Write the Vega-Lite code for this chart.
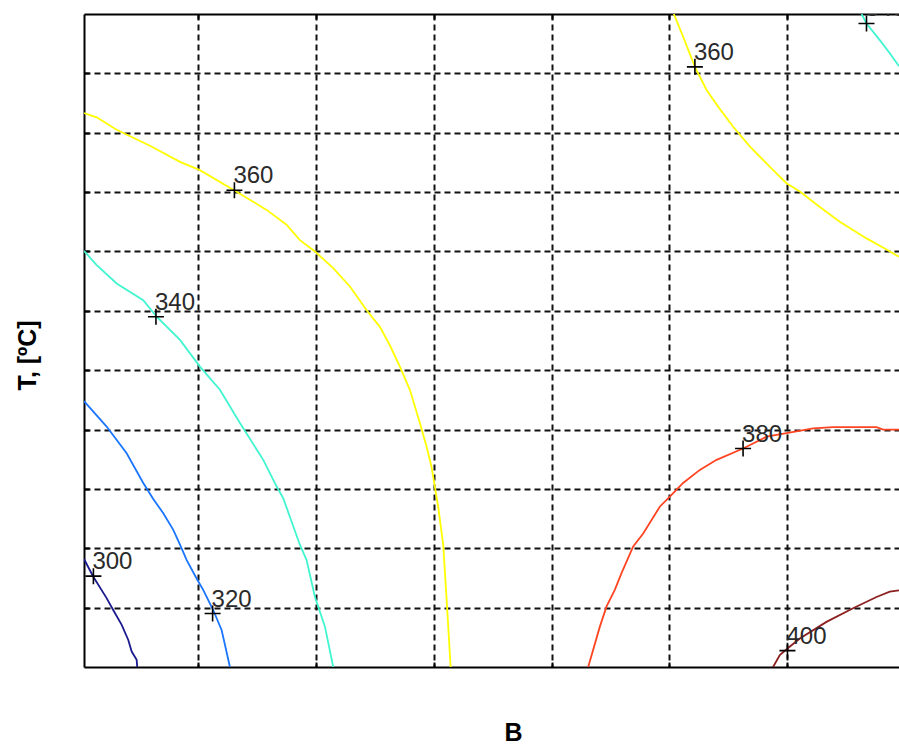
{
  "$schema": "https://vega.github.io/schema/vega-lite/v6.json",
  "width": 815,
  "height": 653,
  "autosize": {"type": "none"},
  "padding": {"left": 84, "top": 14, "right": 0, "bottom": 78},
  "background": "white",
  "config": {"view": {"stroke": null}},
  "datasets": {
    "contours": [
      {"seg":"300","level":"300","i":0,"B":0.03,"T":1.82},{"seg":"300","level":"300","i":1,"B":0.109,"T":1.52},{"seg":"300","level":"300","i":2,"B":0.222,"T":1.16},{"seg":"300","level":"300","i":3,"B":0.278,"T":0.96},{"seg":"300","level":"300","i":4,"B":0.35,"T":0.71},{"seg":"300","level":"300","i":5,"B":0.406,"T":0.455},{"seg":"300","level":"300","i":6,"B":0.435,"T":0.26},{"seg":"300","level":"300","i":7,"B":0.477,"T":0.12},{"seg":"300","level":"300","i":8,"B":0.482,"T":0},
      {"seg":"320","level":"320","i":0,"B":0.03,"T":4.48},{"seg":"320","level":"320","i":1,"B":0.222,"T":4.05},{"seg":"320","level":"320","i":2,"B":0.392,"T":3.6},{"seg":"320","level":"320","i":3,"B":0.533,"T":3.1},{"seg":"320","level":"320","i":4,"B":0.618,"T":2.83},{"seg":"320","level":"320","i":5,"B":0.703,"T":2.59},{"seg":"320","level":"320","i":6,"B":0.788,"T":2.31},{"seg":"320","level":"320","i":7,"B":0.845,"T":2.06},{"seg":"320","level":"320","i":8,"B":0.902,"T":1.8},{"seg":"320","level":"320","i":9,"B":0.986,"T":1.49},{"seg":"320","level":"320","i":10,"B":1.042,"T":1.3},{"seg":"320","level":"320","i":11,"B":1.127,"T":0.96},{"seg":"320","level":"320","i":12,"B":1.199,"T":0.62},{"seg":"320","level":"320","i":13,"B":1.269,"T":0},
      {"seg":"340a","level":"340","i":0,"B":0.03,"T":7.01},{"seg":"340a","level":"340","i":1,"B":0.138,"T":6.77},{"seg":"340a","level":"340","i":2,"B":0.307,"T":6.46},{"seg":"340a","level":"340","i":3,"B":0.533,"T":6.18},{"seg":"340a","level":"340","i":4,"B":0.647,"T":5.9},{"seg":"340a","level":"340","i":5,"B":0.845,"T":5.51},{"seg":"340a","level":"340","i":6,"B":1.014,"T":5.06},{"seg":"340a","level":"340","i":7,"B":1.184,"T":4.67},{"seg":"340a","level":"340","i":8,"B":1.354,"T":4.11},{"seg":"340a","level":"340","i":9,"B":1.552,"T":3.49},{"seg":"340a","level":"340","i":10,"B":1.666,"T":3.04},{"seg":"340a","level":"340","i":11,"B":1.722,"T":2.84},{"seg":"340a","level":"340","i":12,"B":1.863,"T":2.06},{"seg":"340a","level":"340","i":13,"B":1.92,"T":1.8},{"seg":"340a","level":"340","i":14,"B":1.991,"T":1.18},{"seg":"340a","level":"340","i":15,"B":2.076,"T":0.68},{"seg":"340a","level":"340","i":16,"B":2.146,"T":0},
      {"seg":"360a","level":"360","i":0,"B":0.03,"T":9.33},{"seg":"360a","level":"360","i":1,"B":0.138,"T":9.26},{"seg":"360a","level":"360","i":2,"B":0.307,"T":9.05},{"seg":"360a","level":"360","i":3,"B":0.59,"T":8.78},{"seg":"360a","level":"360","i":4,"B":0.845,"T":8.51},{"seg":"360a","level":"360","i":5,"B":1.014,"T":8.37},{"seg":"360a","level":"360","i":6,"B":1.297,"T":8.04},{"seg":"360a","level":"360","i":7,"B":1.581,"T":7.7},{"seg":"360a","level":"360","i":8,"B":1.75,"T":7.45},{"seg":"360a","level":"360","i":9,"B":1.863,"T":7.19},{"seg":"360a","level":"360","i":10,"B":1.991,"T":7.0},{"seg":"360a","level":"360","i":11,"B":2.146,"T":6.72},{"seg":"360a","level":"360","i":12,"B":2.288,"T":6.41},{"seg":"360a","level":"360","i":13,"B":2.43,"T":6.01},{"seg":"360a","level":"360","i":14,"B":2.542,"T":5.73},{"seg":"360a","level":"360","i":15,"B":2.627,"T":5.42},{"seg":"360a","level":"360","i":16,"B":2.712,"T":5.06},{"seg":"360a","level":"360","i":17,"B":2.797,"T":4.67},{"seg":"360a","level":"360","i":18,"B":2.882,"T":4.11},{"seg":"360a","level":"360","i":19,"B":2.939,"T":3.71},{"seg":"360a","level":"360","i":20,"B":2.981,"T":3.37},{"seg":"360a","level":"360","i":21,"B":3.009,"T":3.04},{"seg":"360a","level":"360","i":22,"B":3.037,"T":2.7},{"seg":"360a","level":"360","i":23,"B":3.08,"T":2.06},{"seg":"360a","level":"360","i":24,"B":3.109,"T":1.13},{"seg":"360a","level":"360","i":25,"B":3.143,"T":0},
      {"seg":"360b","level":"360","i":0,"B":5.038,"T":11},{"seg":"360b","level":"360","i":1,"B":5.117,"T":10.62},{"seg":"360b","level":"360","i":2,"B":5.217,"T":10.11},{"seg":"360b","level":"360","i":3,"B":5.316,"T":9.72},{"seg":"360b","level":"360","i":4,"B":5.414,"T":9.44},{"seg":"360b","level":"360","i":5,"B":5.542,"T":9.1},{"seg":"360b","level":"360","i":6,"B":5.683,"T":8.77},{"seg":"360b","level":"360","i":7,"B":5.881,"T":8.37},{"seg":"360b","level":"360","i":8,"B":5.995,"T":8.15},{"seg":"360b","level":"360","i":9,"B":6.108,"T":8.01},{"seg":"360b","level":"360","i":10,"B":6.278,"T":7.75},{"seg":"360b","level":"360","i":11,"B":6.447,"T":7.5},{"seg":"360b","level":"360","i":12,"B":6.674,"T":7.22},{"seg":"360b","level":"360","i":13,"B":6.829,"T":7.05},{"seg":"360b","level":"360","i":14,"B":6.95,"T":6.91},
      {"seg":"340b","level":"340","i":0,"B":6.632,"T":11},{"seg":"340b","level":"340","i":1,"B":6.674,"T":10.84},{"seg":"340b","level":"340","i":2,"B":6.787,"T":10.56},{"seg":"340b","level":"340","i":3,"B":6.872,"T":10.34},{"seg":"340b","level":"340","i":4,"B":6.95,"T":10.12},
      {"seg":"380","level":"380","i":0,"B":4.311,"T":0},{"seg":"380","level":"380","i":1,"B":4.41,"T":0.68},{"seg":"380","level":"380","i":2,"B":4.467,"T":1.02},{"seg":"380","level":"380","i":3,"B":4.537,"T":1.3},{"seg":"380","level":"380","i":4,"B":4.594,"T":1.58},{"seg":"380","level":"380","i":5,"B":4.693,"T":2.03},{"seg":"380","level":"380","i":6,"B":4.778,"T":2.25},{"seg":"380","level":"380","i":7,"B":4.919,"T":2.7},{"seg":"380","level":"380","i":8,"B":5.004,"T":2.87},{"seg":"380","level":"380","i":9,"B":5.117,"T":3.1},{"seg":"380","level":"380","i":10,"B":5.259,"T":3.32},{"seg":"380","level":"380","i":11,"B":5.401,"T":3.49},{"seg":"380","level":"380","i":12,"B":5.626,"T":3.68},{"seg":"380","level":"380","i":13,"B":5.825,"T":3.88},{"seg":"380","level":"380","i":14,"B":5.995,"T":3.94},{"seg":"380","level":"380","i":15,"B":6.221,"T":4.02},{"seg":"380","level":"380","i":16,"B":6.39,"T":4.04},{"seg":"380","level":"380","i":17,"B":6.759,"T":4.04},{"seg":"380","level":"380","i":18,"B":6.815,"T":4.0},{"seg":"380","level":"380","i":19,"B":6.95,"T":4.0},
      {"seg":"400","level":"400","i":0,"B":5.881,"T":0},{"seg":"400","level":"400","i":1,"B":5.938,"T":0.2},{"seg":"400","level":"400","i":2,"B":6.008,"T":0.32},{"seg":"400","level":"400","i":3,"B":6.108,"T":0.48},{"seg":"400","level":"400","i":4,"B":6.334,"T":0.76},{"seg":"400","level":"400","i":5,"B":6.56,"T":0.99},{"seg":"400","level":"400","i":6,"B":6.759,"T":1.18},{"seg":"400","level":"400","i":7,"B":6.872,"T":1.27},{"seg":"400","level":"400","i":8,"B":6.95,"T":1.29}
    ],
    "labels": [
      {"B":0.11,"T":1.53,"label":"300"},
      {"B":1.122,"T":0.9,"label":"320"},
      {"B":0.641,"T":5.9,"label":"340"},
      {"B":1.307,"T":8.03,"label":"360"},
      {"B":5.217,"T":10.11,"label":"360"},
      {"B":6.674,"T":10.84,"label":"340"},
      {"B":5.626,"T":3.68,"label":"380"},
      {"B":6.003,"T":0.275,"label":"400"}
    ]
  },
  "layer": [
    {
      "data": {"name": "contours"},
      "mark": {"type": "line", "strokeWidth": 1.8, "clip": true},
      "encoding": {
        "x": {
          "field": "B", "type": "quantitative",
          "scale": {"domain": [0.03, 6.95], "nice": false, "zero": false},
          "axis": {
            "orient": "bottom", "values": [1, 2, 3, 4, 5, 6], "labels": false,
            "tickSize": -5, "tickColor": "black", "tickWidth": 2,
            "grid": true, "gridColor": "#111111", "gridDash": [6, 4], "gridWidth": 2, "gridOpacity": 1,
            "domainColor": "black", "domainWidth": 2,
            "title": "B", "titleFont": "Liberation Sans", "titleFontSize": 25, "titleFontWeight": "bold",
            "titleColor": "black", "titleX": 429, "titleY": 73, "titleBaseline": "alphabetic", "titleAlign": "center"
          }
        },
        "y": {
          "field": "T", "type": "quantitative",
          "scale": {"domain": [0, 11], "nice": false, "zero": false},
          "axis": {
            "orient": "left", "values": [1, 2, 3, 4, 5, 6, 7, 8, 9, 10], "labels": false,
            "tickSize": -5, "tickColor": "black", "tickWidth": 2,
            "grid": true, "gridColor": "#111111", "gridDash": [6, 4], "gridWidth": 2, "gridOpacity": 1,
            "domainColor": "black", "domainWidth": 2,
            "title": "T, [ºC]", "titleFont": "Liberation Sans", "titleFontSize": 25, "titleFontWeight": "bold",
            "titleColor": "black", "titleX": -49, "titleY": 341, "titleAngle": 270, "titleBaseline": "alphabetic", "titleAlign": "center"
          }
        },
        "color": {
          "field": "level", "type": "nominal",
          "scale": {"domain": ["300", "320", "340", "360", "380", "400"], "range": ["#1a1a8f", "#1a75ff", "#40f5d0", "#ffff00", "#ff4422", "#8c2020"]},
          "legend": null
        },
        "detail": {"field": "seg", "type": "nominal"},
        "order": {"field": "i", "type": "quantitative"}
      }
    },
    {
      "data": {"name": "labels"},
      "mark": {"type": "point", "shape": "M-1,0L1,0M0,-1L0,1", "size": 256, "filled": false, "color": "black", "strokeWidth": 1.6, "opacity": 1},
      "encoding": {
        "x": {
          "field": "B", "type": "quantitative",
          "axis": {
            "orient": "top", "values": [1, 2, 3, 4, 5, 6], "labels": false,
            "tickSize": -5, "tickColor": "black", "tickWidth": 2, "grid": false,
            "domainColor": "black", "domainWidth": 2, "title": null
          }
        },
        "y": {"field": "T", "type": "quantitative"}
      }
    },
    {
      "data": {"name": "labels"},
      "mark": {"type": "text", "align": "left", "baseline": "alphabetic", "dx": -1, "dy": -7, "fontSize": 24, "font": "Liberation Sans", "color": "#2a2a2a", "clip": true},
      "encoding": {
        "x": {"field": "B", "type": "quantitative", "axis": null},
        "y": {"field": "T", "type": "quantitative"},
        "text": {"field": "label"}
      }
    }
  ],
  "resolve": {"axis": {"x": "independent"}}
}
